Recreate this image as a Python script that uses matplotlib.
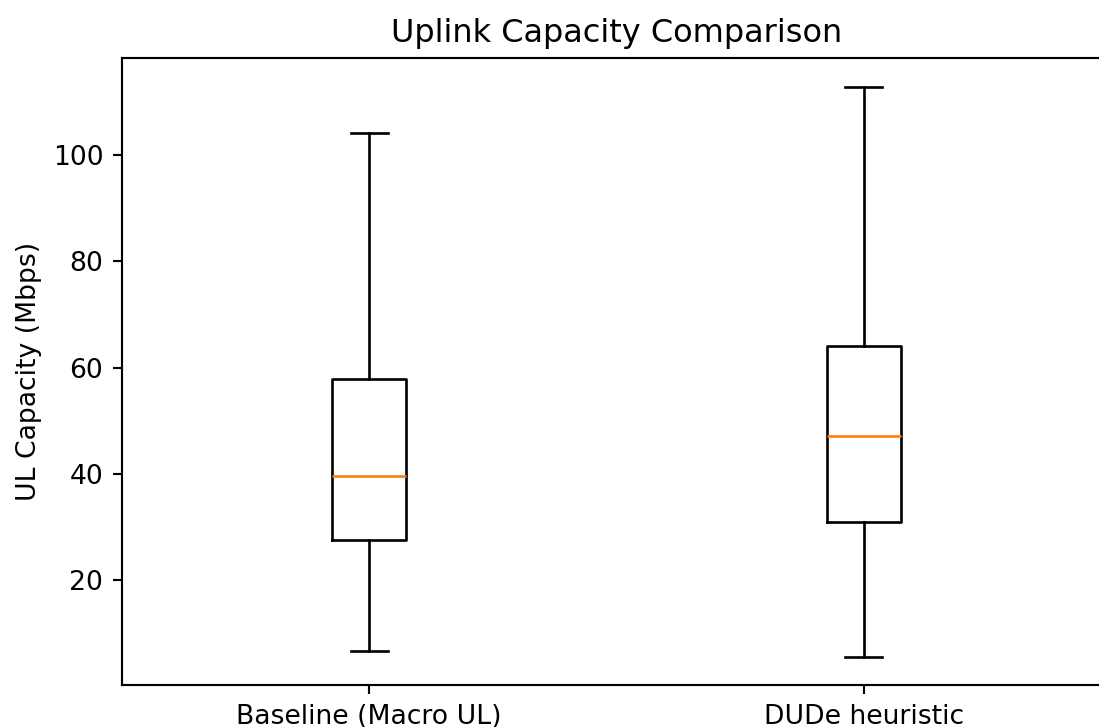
import matplotlib
matplotlib.use('Agg')
import matplotlib.pyplot as plt

labels = ['Baseline (Macro UL)', 'DUDe heuristic']
whislo = [6.8, 5.7]
q1 = [27.5, 30.9]
med = [39.7, 47.1]
q3 = [57.8, 64.0]
whishi = [104.0, 112.8]

stats = []
for i, name in enumerate(labels):
    stats.append({'label': name, 'whislo': whislo[i], 'q1': q1[i], 'med': med[i],
                  'q3': q3[i], 'whishi': whishi[i], 'fliers': []})

dpi = 192
fig = plt.figure(figsize=(1099 / dpi, 727 / dpi), dpi=dpi)
ax = fig.add_axes([122 / 1099, 42 / 727, 989 / 1099, 627 / 727])
ax.bxp(stats, showfliers=False)
ax.set_title('Uplink Capacity Comparison')
ax.set_ylabel('UL Capacity (Mbps)')
fig.savefig('out.png', dpi=dpi)
